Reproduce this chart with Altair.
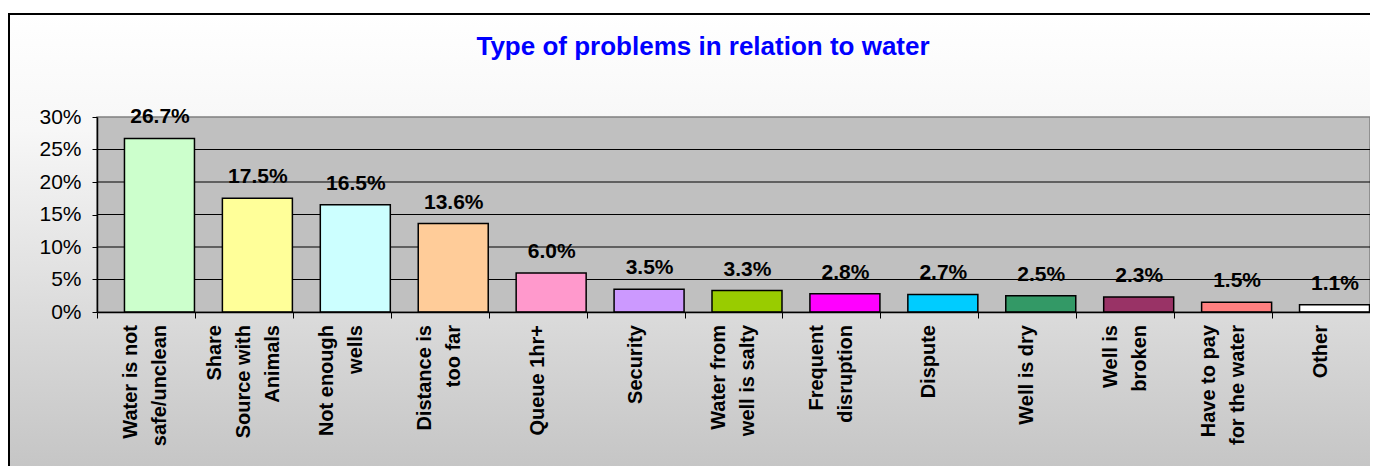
import altair as alt
import pandas as pd

categories = [
    "Water is not safe/unclean",
    "Share Source with Animals",
    "Not enough wells",
    "Distance is too far",
    "Queue 1hr+",
    "Security",
    "Water from well is salty",
    "Frequent disruption",
    "Dispute",
    "Well is dry",
    "Well is broken",
    "Have to pay for the water",
    "Other",
]
label_lines = [
    ["Water is not", "safe/unclean"],
    ["Share", "Source with", "Animals"],
    ["Not enough", "wells"],
    ["Distance is", "too far"],
    ["Queue 1hr+"],
    ["Security"],
    ["Water from", "well is salty"],
    ["Frequent", "disruption"],
    ["Dispute"],
    ["Well is dry"],
    ["Well is", "broken"],
    ["Have to pay", "for the water"],
    ["Other"],
]
values = [26.7, 17.5, 16.5, 13.6, 6.0, 3.5, 3.3, 2.8, 2.7, 2.5, 2.3, 1.5, 1.1]
colors = ["#CCFFCC", "#FFFF99", "#CCFFFF", "#FFCC99", "#FF99CC", "#CC99FF",
          "#99CC00", "#FF00FF", "#00CCFF", "#339966", "#993366", "#FF8080", "#FFFFFF"]
grid_values = [0.05, 0.10, 0.15, 0.20, 0.25]
y_ticks = [0, 0.05, 0.10, 0.15, 0.20, 0.25, 0.30]
title_text = "Type of problems in relation to water"

df = pd.DataFrame({
    "cat": categories,
    "value": [v / 100 for v in values],
    "color": colors,
    "label": [f"{v:.1f}%" for v in values],
})

# one row per label line; "slot" = position of the line in its block
rows = []
for cat, lines in zip(categories, label_lines):
    n = len(lines)
    for i, line in enumerate(lines):
        rows.append({"cat": cat, "line": line, "slot": i - (n - 1) / 2})
lines_df = pd.DataFrame(rows)

FONT = "Liberation Sans"
LINE_H = 29
yscale = alt.Scale(domain=[0, 0.30], nice=False, zero=True)
xscale = alt.Scale(paddingInner=0, paddingOuter=0)

xdef = alt.X(
    "cat:N",
    sort=categories,
    scale=xscale,
    title=None,
    axis=alt.Axis(
        labels=False,
        tickBand="extent",
        tickSize=6,
        tickColor="black",
        domainColor="black",
        domainWidth=1.5,
        grid=False,
        zindex=1,
    ),
)
ydef = alt.Y(
    "value:Q",
    scale=yscale,
    title=None,
    axis=alt.Axis(
        values=y_ticks,
        format=".0%",
        labelFont=FONT,
        labelFontSize=21,
        labelColor="black",
        labelPadding=11,
        tickSize=5,
        tickColor="black",
        domainColor="black",
        domainWidth=1.5,
        grid=False,
        zindex=1,
    ),
)

one = alt.Data(values=[{"a": 1}])

frame = alt.Chart(one).mark_rect(
    fill=alt.Gradient(
        gradient="linear",
        stops=[
            alt.GradientStop(color="#FFFFFF", offset=0),
            alt.GradientStop(color="#F7F7F7", offset=0.25),
            alt.GradientStop(color="#D6D6D6", offset=0.72),
            alt.GradientStop(color="#C4C4C4", offset=1),
        ],
        x1=0, x2=0, y1=0, y2=1,
    ),
    strokeWidth=0,
).encode(
    x=alt.value(-88), x2=alt.value(1400), y=alt.value(-103), y2=alt.value(360)
)

frame_top = alt.Chart(one).mark_rule(color="black", strokeWidth=2).encode(
    x=alt.value(-89), x2=alt.value(1400), y=alt.value(-103)
)
frame_left = alt.Chart(one).mark_rule(color="black", strokeWidth=2).encode(
    x=alt.value(-88), y=alt.value(-104), y2=alt.value(360)
)

plotbg = alt.Chart(one).mark_rect(
    fill="#C0C0C0", stroke="#808080", strokeWidth=1.5
).encode(
    x=alt.value(0), x2=alt.value("width"), y=alt.value(0), y2=alt.value("height")
)

grid = alt.Chart(pd.DataFrame({"value": grid_values})).mark_rule(
    color="#000000", strokeWidth=1
).encode(y=ydef)

bars = alt.Chart(df).mark_bar(
    width=70, xOffset=13.5, stroke="black", strokeWidth=1.5
).encode(x=xdef, y=ydef, color=alt.Color("color:N", scale=None))

texts = alt.Chart(df).mark_text(
    dx=14, dy=-15, baseline="alphabetic", font=FONT, fontSize=21,
    fontWeight="bold", color="black"
).encode(x=xdef, y=ydef, text="label:N")

cat_layers = []
for slot in sorted(set(lines_df["slot"])):
    cat_layers.append(
        alt.Chart(lines_df[lines_df["slot"] == slot]).mark_text(
            angle=270, align="right", baseline="middle", font=FONT,
            fontSize=20, fontWeight="bold", color="black",
            xOffset=slot * LINE_H, yOffset=13,
        ).encode(x=xdef, y=alt.value("height"), text="line:N")
    )

title = alt.Chart(one).mark_text(
    font=FONT, fontSize=26, fontWeight="bold", color="#0000FF",
    align="center", baseline="alphabetic",
).encode(x=alt.value(606), y=alt.value(-62), text=alt.value(title_text))

chart = alt.layer(
    frame, frame_top, frame_left, plotbg, grid, bars, texts, *cat_layers, title
).properties(
    width=1273,
    height=195,
    autosize=alt.AutoSizeParams(type="none"),
    padding={"left": 89, "top": 109, "right": 0, "bottom": 154},
).configure_view(stroke=None).configure(background="white")

chart.save("out.html", embed_options={"renderer": "svg", "actions": False})
